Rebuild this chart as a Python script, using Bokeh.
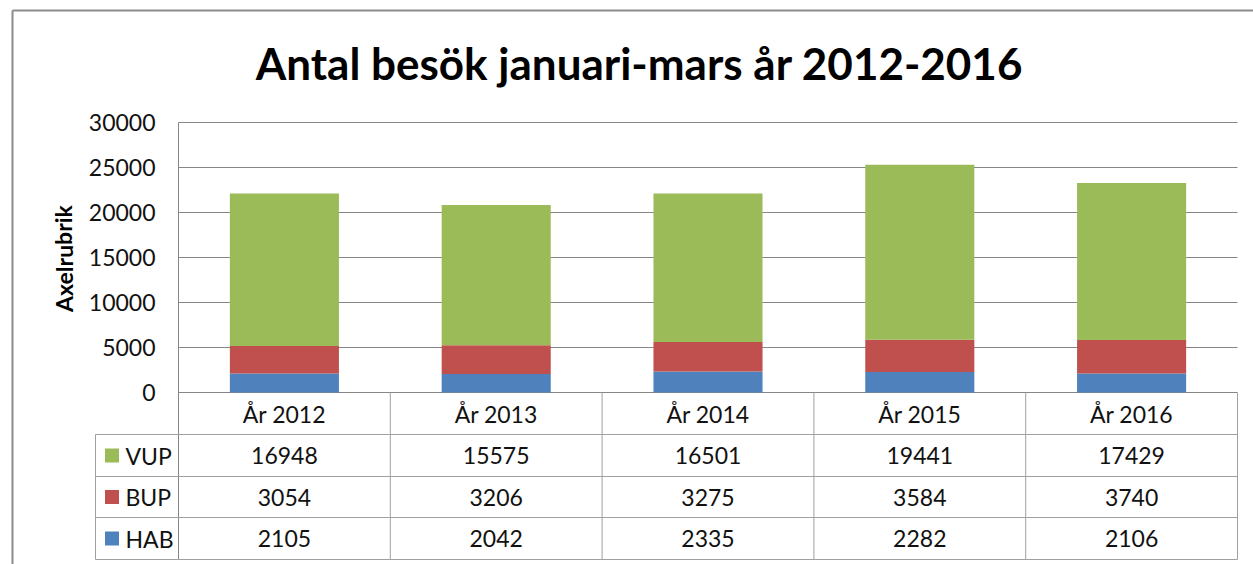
from bokeh.plotting import figure
from bokeh.models import Range1d, ColumnDataSource
from bokeh.core.properties import value
from bokeh.embed import file_html
from bokeh.resources import INLINE

# ---------------- data ----------------
title_text = "Antal besök januari-mars år 2012-2016"
y_label = "Axelrubrik"
years = ["År 2012", "År 2013", "År 2014", "År 2015", "År 2016"]
series = ["HAB", "BUP", "VUP"]          # stacking order (bottom -> top)
hab = [2105, 2042, 2335, 2282, 2106]
bup = [3054, 3206, 3275, 3584, 3740]
vup = [16948, 15575, 16501, 19441, 17429]
y_ticks = [0, 5000, 10000, 15000, 20000, 25000, 30000]
colors = ["#4F81BD", "#C0504D", "#9BBB59"]

# ---------------- layout (pixels) ----------------
W, H = 1253, 564
PLOT_L, COL_W = 178, 211.8
Y0_PX, YTOP_PX = 392, 122
YMAX = 30000
UPP = YMAX / (Y0_PX - YTOP_PX)
ROW_EDGES = [392, 434, 476, 517, 559]
TABLE_L = 95
FONT = "Lato"
GRID = "#868686"
TGRID = "#A0A0A0"
TXT = "#111111"
FS = "23px"


def X(px):
    return (px - PLOT_L) / COL_W - 0.5


def Y(py):
    return (Y0_PX - py) * UPP


p = figure(width=W, height=H, x_range=Range1d(X(0), X(W)), y_range=Range1d(Y(H), Y(0)),
           output_backend="svg", toolbar_location=None, min_border=0,
           x_axis_location=None, y_axis_location=None, outline_line_color=None,
           background_fill_color="white", border_fill_color="white")
p.grid.visible = False

n = len(years)
xs = list(range(n))
x_left = X(PLOT_L)
x_right = X(PLOT_L + COL_W * n)

# outer chart border (left and top visible)
p.segment(x0=[X(12), X(12)], y0=[Y(10), Y(10)], x1=[X(12), X(W + 5)], y1=[Y(H + 5), Y(10)],
          line_color="#8C8C8C", line_width=2)

# gridlines
p.segment(x0=[x_left] * len(y_ticks), x1=[x_right] * len(y_ticks), y0=y_ticks, y1=y_ticks,
          line_color=GRID, line_width=1)

# stacked bars
src = ColumnDataSource(dict(x=xs, HAB=hab, BUP=bup, VUP=vup))
p.vbar_stack(series, x="x", width=0.515, color=colors, source=src, line_color=None)

# y tick labels
p.text(x=[X(155)] * len(y_ticks), y=y_ticks, text=[str(t) for t in y_ticks],
       text_align="right", text_baseline="middle", text_font=value(FONT),
       text_font_size=FS, text_color=TXT)

# y axis label
p.text(x=[X(63)], y=[Y(258)], text=[y_label], angle=1.5708, text_align="center",
       text_baseline="middle", text_font=value(FONT), text_font_style="bold",
       text_font_size="23px", text_color="black")

# title
p.text(x=[X(639)], y=[Y(62)], text=[title_text], text_align="center", text_baseline="middle",
       text_font=value(FONT), text_font_style="bold", text_font_size="44px", text_color="black")

# ---------------- data table ----------------
# axis line continuing through table
p.segment(x0=[x_left], x1=[x_left], y0=[YMAX], y1=[Y(ROW_EDGES[-1])], line_color=GRID, line_width=1)
# vertical column lines
vx = [x + 0.5 for x in xs]
p.segment(x0=vx, x1=vx, y0=[Y(ROW_EDGES[0])] * n, y1=[Y(ROW_EDGES[-1])] * n,
          line_color=TGRID, line_width=1)
# left edge of row-header column
p.segment(x0=[X(TABLE_L)], x1=[X(TABLE_L)], y0=[Y(ROW_EDGES[1])], y1=[Y(ROW_EDGES[-1])],
          line_color=TGRID, line_width=1)
# horizontal lines
hy = [Y(r) for r in ROW_EDGES[1:]]
p.segment(x0=[X(TABLE_L)] * len(hy), x1=[x_right] * len(hy), y0=hy, y1=hy,
          line_color=TGRID, line_width=1)

# header row
hc = Y((ROW_EDGES[0] + ROW_EDGES[1]) / 2)
p.text(x=xs, y=[hc] * n, text=years, text_align="center", text_baseline="middle",
       text_font=value(FONT), text_font_size=FS, text_color=TXT)

rows = [("VUP", vup, colors[2]), ("BUP", bup, colors[1]), ("HAB", hab, colors[0])]
for k, (name, vals, col) in enumerate(rows):
    yc = Y((ROW_EDGES[k + 1] + ROW_EDGES[k + 2]) / 2)
    p.scatter(x=[X(111.5)], y=[yc], marker="square", size=14, fill_color=col, line_color=None)
    p.text(x=[X(125)], y=[yc], text=[name], text_align="left", text_baseline="middle",
           text_font=value(FONT), text_font_size=FS, text_color=TXT)
    p.text(x=xs, y=[yc] * n, text=[str(v) for v in vals], text_align="center",
           text_baseline="middle", text_font=value(FONT), text_font_size=FS,
           text_color=TXT)

open("out.html", "w").write(file_html(p, INLINE))
